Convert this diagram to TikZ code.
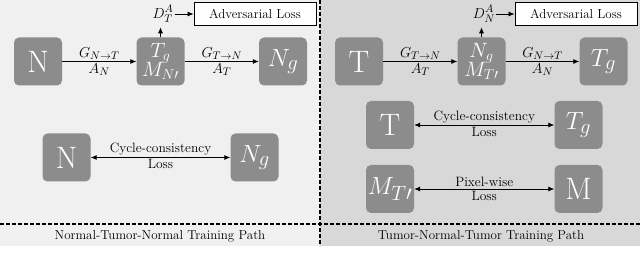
\documentclass[tikz,border=0pt]{standalone}
\usepackage{amsmath, amssymb}
\usepackage{tikz}
\usetikzlibrary{calc, arrows.meta}

\definecolor{leftbg}{HTML}{F0F0F0}
\definecolor{rightbg}{HTML}{D8D8D8}
\definecolor{boxgray}{HTML}{8C8C8C}

\begin{document}
\begin{tikzpicture}[x=1pt,y=-1pt]
          \tikzstyle{imgbox}=[rounded corners=5pt,fill=boxgray,text=white,minimum width=48pt,minimum height=48pt,inner sep=0pt,font=\rmfamily\fontsize{31}{31}\selectfont]
          \tikzstyle{twobox}=[imgbox,align=center,font=\rmfamily\fontsize{20}{21}\selectfont]
          \tikzstyle{lossbox}=[draw,line width=.9pt,fill=white,minimum width=122pt,minimum height=23pt,inner sep=0pt,font=\rmfamily\fontsize{13}{14}\selectfont]
          \tikzstyle{edge}=[draw,line width=.8pt,-{Latex[length=6pt,width=5pt]}]
          \tikzstyle{dedge}=[draw,line width=.8pt,{Latex[length=6pt,width=5pt]}-{Latex[length=6pt,width=5pt]}]
          \tikzstyle{sep}=[draw,line width=1.2pt,dash pattern=on 4pt off 2pt]
          \tikzstyle{lab}=[font=\rmfamily\fontsize{13.5}{14}\selectfont,inner sep=1.5pt]
          \tikzstyle{glab}=[font=\fontsize{15}{15}\selectfont,inner sep=1.5pt]
          \useasboundingbox (0,0) rectangle (640,275);
          % panels
          \fill[leftbg] (0,0) rectangle (320,246);
          \fill[rightbg] (320,0) rectangle (640,246);
          \draw[sep] (0,224) -- (640,224);
          \draw[sep] (320,0) -- (320,246);
          \node[lab,font=\rmfamily\fontsize{13}{14}\selectfont] (lpath) at (160,236) {Normal-Tumor-Normal Training Path};
          \node[lab,font=\rmfamily\fontsize{13}{14}\selectfont] (rpath) at (481,236) {Tumor-Normal-Tumor Training Path};
          % left: normal-tumor-normal
          \node[imgbox] (n1) at (38,61.5) {N};
          \node[twobox] (tg1) at (160.5,61.5) {$T_g$\\[-2pt]$M_{N\prime}$};
          \node[imgbox] (ng1) at (283,61.5) {$N_g$};
          \node[lossbox] (adv1) at (255,13.5) {Adversarial Loss};
          \node[inner sep=1pt,font=\fontsize{15}{15}\selectfont] (d1) at (163,14) {$D_T^A$};
          \draw[edge] (tg1.north) -- ($(tg1.north)+(0,-10)$);
          \draw[edge] (d1.east) -- (adv1.west |- d1.east);
          \draw[edge] (n1) -- node[glab,above] {$G_{N\rightarrow T}$} node[glab,below] {$A_N$} (tg1);
          \draw[edge] (tg1) -- node[glab,above] {$G_{T\rightarrow N}$} node[glab,below] {$A_T$} (ng1);
          \node[imgbox] (n2) at (66.5,157.5) {N};
          \node[imgbox] (ng2) at (254.5,157.5) {$N_g$};
          \draw[dedge] (n2) -- node[lab,above] {Cycle-consistency} node[lab,below] {Loss} (ng2);
          % right: tumor-normal-tumor
          \node[imgbox] (t1) at (359,61.5) {T};
          \node[twobox] (ngr) at (481.5,61.5) {$N_g$\\[-2pt]$M_{T\prime}$};
          \node[imgbox] (tgr) at (603.5,61.5) {$T_g$};
          \node[lossbox] (adv2) at (576,13.5) {Adversarial Loss};
          \node[inner sep=1pt,font=\fontsize{15}{15}\selectfont] (d2) at (484,14) {$D_N^A$};
          \draw[edge] (ngr.north) -- ($(ngr.north)+(0,-10)$);
          \draw[edge] (d2.east) -- (adv2.west |- d2.east);
          \draw[edge] (t1) -- node[glab,above] {$G_{T\rightarrow N}$} node[glab,below] {$A_T$} (ngr);
          \draw[edge] (ngr) -- node[glab,above] {$G_{N\rightarrow T}$} node[glab,below] {$A_N$} (tgr);
          \node[imgbox] (t2) at (390,125) {T};
          \node[imgbox] (tg2) at (578.5,125) {$T_g$};
          \draw[dedge] (t2) -- node[lab,above] {Cycle-consistency} node[lab,below] {Loss} (tg2);
          \node[imgbox] (mt) at (390,189) {$M_{T\prime}$};
          \node[imgbox] (m) at (578.5,189) {M};
          \draw[dedge] (mt) -- node[lab,above] {Pixel-wise} node[lab,below] {Loss} (m);
\end{tikzpicture}
\end{document}
